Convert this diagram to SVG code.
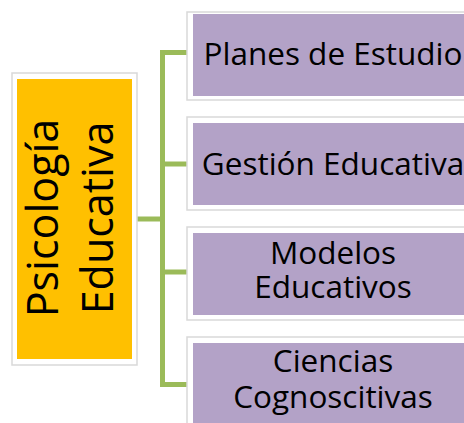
<svg xmlns="http://www.w3.org/2000/svg" width="464" height="423" viewBox="0 0 464 423">
<style>
.frame{fill:#ffffff;stroke:#d9d9d9;stroke-width:1.5}
.yel{fill:#ffc000}
.pur{fill:#b3a2c7}
.conn{fill:none;stroke:#9bbb59;stroke-width:5;stroke-linejoin:miter}
.main{font-family:"Open Sans","Noto Sans",sans-serif;font-size:43px;fill:#000;text-anchor:middle}
.lbl{font-family:"Open Sans","Noto Sans",sans-serif;font-size:31.5px;fill:#000;text-anchor:middle}
</style>
<rect width="464" height="423" fill="#ffffff"/>
<g id="connectors">
<path class="conn" d="M137,219 H162.5"/>
<path class="conn" d="M187,52.5 H162.5 V384.5 H187"/>
<path class="conn" d="M162.5,164 H187"/>
<path class="conn" d="M162.5,272 H187"/>
</g>
<g id="psicologia-educativa">
<rect class="frame" x="12" y="73" width="125" height="292"/>
<rect class="yel" x="17" y="79" width="115" height="280"/>
<text class="main" transform="rotate(-90 58 218)"><tspan x="58" y="218">Psicología</tspan><tspan x="58" y="273">Educativa</tspan></text>
</g>
<g id="planes-de-estudio">
<rect class="frame" x="187" y="12" width="300" height="88"/>
<rect class="pur" x="193" y="14" width="290" height="82"/>
<text class="lbl" x="333" y="65">Planes de Estudio</text>
</g>
<g id="gestion-educativa">
<rect class="frame" x="187" y="117" width="300" height="93"/>
<rect class="pur" x="193" y="123" width="290" height="82"/>
<text class="lbl" x="333" y="175">Gestión Educativa</text>
</g>
<g id="modelos-educativos">
<rect class="frame" x="187" y="227" width="300" height="93"/>
<rect class="pur" x="193" y="233" width="290" height="82"/>
<text class="lbl"><tspan x="333" y="264">Modelos</tspan><tspan x="333" y="298">Educativos</tspan></text>
</g>
<g id="ciencias-cognoscitivas">
<rect class="frame" x="187" y="337" width="300" height="93"/>
<rect class="pur" x="193" y="343" width="290" height="82"/>
<text class="lbl"><tspan x="333" y="372">Ciencias</tspan><tspan x="333" y="408">Cognoscitivas</tspan></text>
</g>
</svg>
